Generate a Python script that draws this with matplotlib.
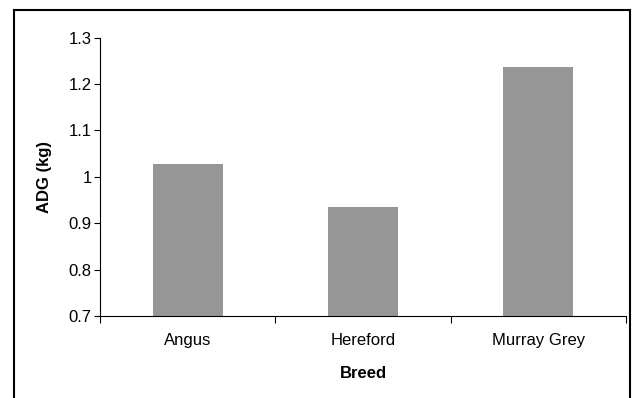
import matplotlib
matplotlib.use("Agg")
import matplotlib.pyplot as plt
from matplotlib.patches import Rectangle

# data
breeds = ["Angus", "Hereford", "Murray Grey"]
adg = [1.027, 0.936, 1.237]
yticks = [0.7, 0.8, 0.9, 1.0, 1.1, 1.2, 1.3]
ytick_labels = ["0.7", "0.8", "0.9", "1", "1.1", "1.2", "1.3"]

plt.rcParams["font.family"] = ["Liberation Sans", "DejaVu Sans"]

fig = plt.figure(figsize=(6.39, 3.98), dpi=100)
ax = fig.add_axes([100 / 639, 1 - 316 / 398, 526 / 639, (316 - 37.7) / 398])

xs = list(range(len(breeds)))
ax.bar(xs, [v - 0.7 for v in adg], bottom=0.7, width=0.4, color="#969696")

ax.set_xlim(-0.5, len(breeds) - 0.5)
ax.set_ylim(0.7, 1.3)
ax.set_yticks(yticks)
ax.set_yticklabels(ytick_labels, fontsize=12)
ax.set_xticks(xs)
ax.set_xticklabels(breeds, fontsize=12)
ax.set_xticks([x - 0.5 for x in range(len(breeds) + 1)], minor=True)
ax.tick_params(axis="x", which="major", length=0, pad=12)
ax.tick_params(axis="x", which="minor", length=5, width=0.8, direction="out")
ax.tick_params(axis="y", length=4, width=0.8, direction="out", pad=2)

for s in ["top", "right"]:
    ax.spines[s].set_visible(False)
for s in ["left", "bottom"]:
    ax.spines[s].set_linewidth(0.8)

ax.set_xlabel("Breed", fontsize=12, fontweight="bold", labelpad=13)
ax.set_ylabel("ADG (kg)", fontsize=12, fontweight="bold", labelpad=12)

# outer frame
fig.patches.append(Rectangle((14 / 639, -0.01), (630 - 14) / 639, 1 - 10 / 398 + 0.01,
                             transform=fig.transFigure, fill=False,
                             edgecolor="black", linewidth=1.5))

fig.savefig("out.png", dpi=100)
